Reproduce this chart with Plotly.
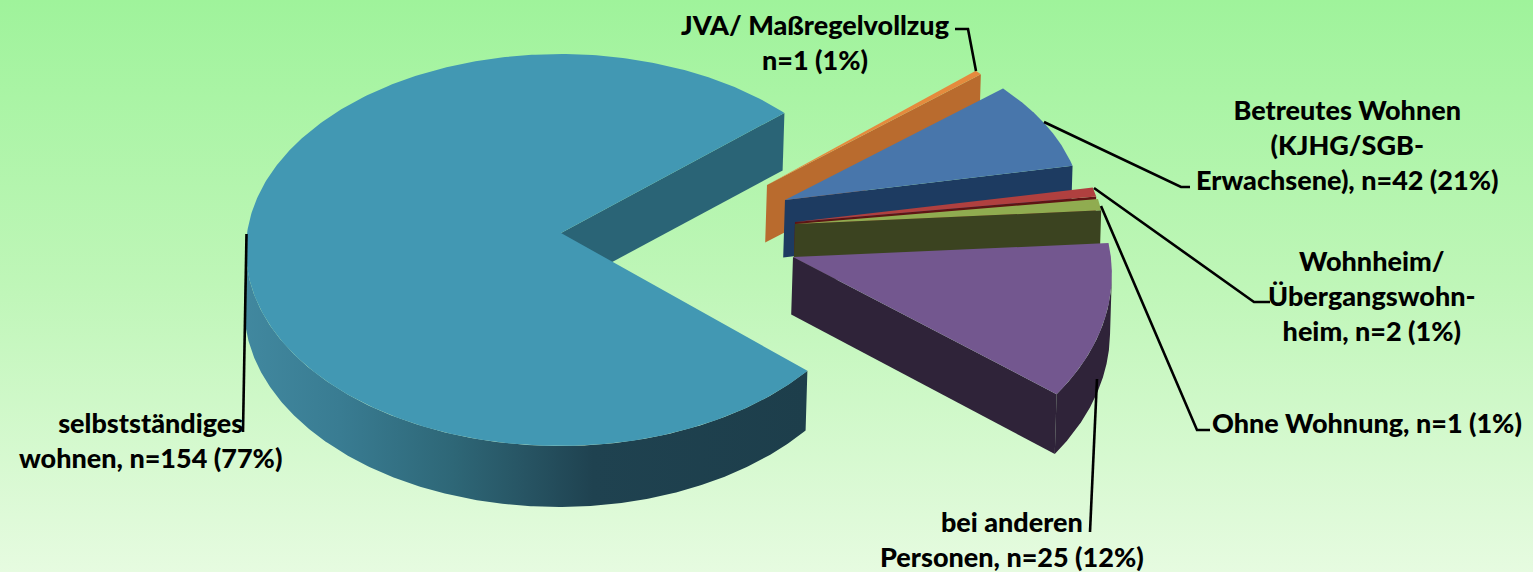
import numpy as np
import plotly.graph_objects as go

# Data
labels = ["selbstständiges<br>wohnen, n=154 (77%)", "JVA/ Maßregelvollzug<br>n=1 (1%)",
          "Betreutes Wohnen<br>(KJHG/SGB-<br>Erwachsene), n=42 (21%)",
          "Wohnheim/<br>Übergangswohn-<br>heim, n=2 (1%)", "Ohne Wohnung, n=1 (1%)",
          "bei anderen<br>Personen, n=25 (12%)"]
# drawn wedge sizes (percent of the full turn), as measured in the picture
wedge_share = [77.1, 0.45, 7.75, 0.8, 1.0, 11.8]

# styling / layout
top_colors = ["#4298b3", "#e58a3d", "#4876ab", "#b0403f", "#90ac50", "#73578f"]
wall_colors = ["#2a6476", "#b96b2e", "#1d3b61", "#5e1414", "#3b4320", "#2f2339"]
centers = [(560, 250), (764, 200), (781, 213), (792, 237), (792, 239), (790, 274)]
apexes = [(561, 233), (767, 185), (785, 200), (795, 222), (795, 224), (793, 257)]
rx_k = [1.01, 0.95, 0.97, 1.0, 1.005, 1.035]
ry_k = [1.005, 0.95, 0.943, 1.0, 1.005, 1.1]
RX, RY = 311, 195
DEPTH = (-1.8, 57.5)
START = 44.4  # upper cut of the big slice, degrees
BG = [[0, "#e6fbe0"], [0.5, "#bff6b8"], [1, "#9ff39b"]]
RIM_MAIN = [[0, "#41889f"], [0.17, "#397c92"], [0.37, "#2e6777"], [0.5, "#275463"],
            [0.62, "#1f4250"], [1, "#1d3e4b"]]

fig = go.Figure()


def poly(xs, ys, color=None, gradient=None, orient="horizontal"):
    kw = dict(fill="toself", mode="lines", line=dict(width=0), hoverinfo="skip", showlegend=False)
    if gradient:
        kw["fillgradient"] = dict(type=orient, colorscale=gradient)
    else:
        kw["fillcolor"] = color
    fig.add_trace(go.Scatter(x=list(xs), y=list(ys), **kw))


poly([0, 1533, 1533, 0, 0], [0, 0, 572, 572, 0], gradient=BG, orient="vertical")

# angular extents derived from the shares, clockwise from the big slice's upper cut
ang = [(START, START + wedge_share[0] * 3.6)]
cur = START
for s in wedge_share[1:]:
    ang.append((cur, cur - s * 3.6))
    cur -= s * 3.6


def rim(i, t):
    c = centers[i]
    r = np.radians(t)
    return c[0] + RX * rx_k[i] * np.cos(r), c[1] - RY * ry_k[i] * np.sin(r)


def top_face(i):
    a, b = ang[i]
    t = np.linspace(a, b, 400)
    x, y = rim(i, t)
    ax, ay = apexes[i]
    return np.r_[ax, x, ax], np.r_[ay, y, ay]


def cut_wall(i, t, extra=0.0):
    x, y = rim(i, t)
    ax, ay = apexes[i]
    poly([ax, x, x + DEPTH[0], ax + DEPTH[0], ax], [ay, y, y + DEPTH[1] + extra, ay + DEPTH[1], ay], wall_colors[i])


def rim_wall(i, t0, t1, extra=0.0, **kw):
    t = np.linspace(t0, t1, 300)
    x, y = rim(i, t)
    d = DEPTH[1] + extra * np.abs(np.minimum(np.sin(np.radians(t)), 0))
    poly(np.r_[x, x[::-1] + DEPTH[0], x[0]], np.r_[y, (y + d)[::-1], y[0]], **kw)


# big slice: inner cut, rim, top
cut_wall(0, ang[0][0])
rim_wall(0, 180, ang[0][1], extra=3.5, gradient=RIM_MAIN)
xs, ys = top_face(0)
poly(xs, ys, top_colors[0])

# exploded slices, back to front
for i in [1, 2, 3, 4, 5]:
    a, b = ang[i]
    if b < 0:
        rim_wall(i, min(a, 0), b, extra=4.0, color=wall_colors[i])
    cut_wall(i, b, extra=2.3 if b < 0 else 0.0)
    xs, ys = top_face(i)
    poly(xs, ys, top_colors[i])

# leader lines
leaders = [
    ([246.5, 243], [234, 432]),
    ([976, 968, 955], [71, 29, 29]),
    ([1044, 1181, 1190], [122, 187, 187]),
    ([1094, 1254, 1270], [188, 302, 302]),
    ([1101, 1197, 1210], [206, 430, 430]),
    ([1097, 1090], [379, 532]),
]
for lx, ly in leaders:
    fig.add_trace(go.Scatter(x=lx, y=ly, mode="lines", line=dict(color="black", width=2.6),
                             hoverinfo="skip", showlegend=False))

label_pos = [(150, 440), (815, 42), (1347, 144), (1372, 295), (1367, 422), (1012, 539)]
annotations = [dict(x=p[0], y=p[1], text=t, showarrow=False, align="center",
                    xanchor="center", yanchor="middle",
                    font=dict(family="Lato", size=27, color="black", weight=900))
               for t, p in zip(labels, label_pos)]

fig.update_layout(
    width=1533, height=572, margin=dict(l=0, r=0, t=0, b=0), showlegend=False,
    paper_bgcolor="#c8f7c0", plot_bgcolor="#c8f7c0", annotations=annotations,
    xaxis=dict(range=[0, 1533], visible=False, fixedrange=True),
    yaxis=dict(range=[572, 0], visible=False, fixedrange=True),
)
fig.write_html("out.html", config=dict(displayModeBar=False),
               post_script="document.body.style.margin='0';")
